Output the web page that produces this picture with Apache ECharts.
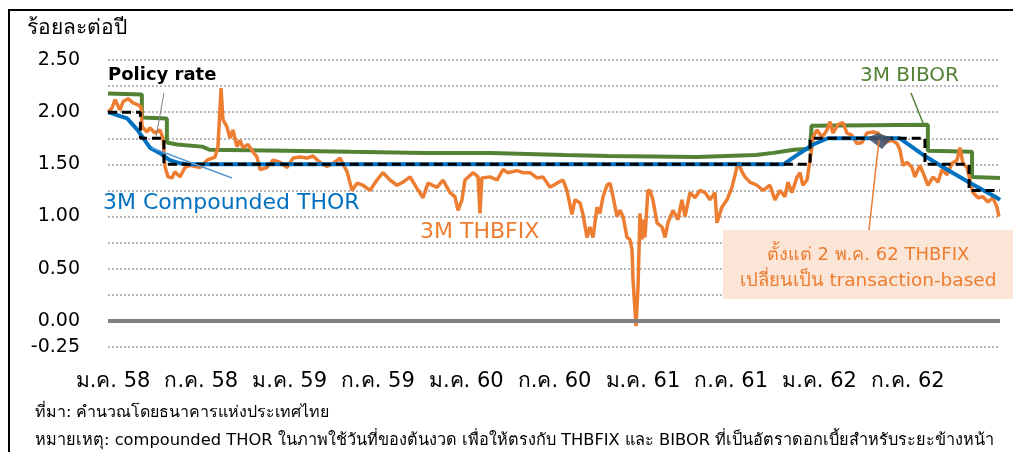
<!DOCTYPE html>
<html>
<head>
<meta charset="utf-8">
<title>THOR THBFIX BIBOR</title>
<script src="https://cdn.jsdelivr.net/npm/echarts@6/dist/echarts.min.js"></script>
<style>
    html, body { margin: 0; padding: 0; background: #fff; }
    #main { width: 1013px; height: 452px; }
</style>
</head>
<body>
<div id="main"></div>
<script>
// x = เดือนนับจาก ม.ค. 58 (0 = ต้น ม.ค. 2015)
var tickLabels = ['ม.ค. 58', 'ก.ค. 58', 'ม.ค. 59', 'ก.ค. 59', 'ม.ค. 60', 'ก.ค. 60', 'ม.ค. 61', 'ก.ค. 61', 'ม.ค. 62', 'ก.ค. 62'];
var tickMonths = [0, 6, 12, 18, 24, 30, 36, 42, 48, 54];

// policy rate (ขั้นบันได ค่าคงที่จนถึงจุดถัดไป)
var policyX = [0, 2.2, 3.8, 47.7, 55.5, 58.5, 60.6];
var policyY = [2.00, 1.75, 1.50, 1.75, 1.50, 1.25, 1.25];

// 3M BIBOR
var biborX = [0, 2.3, 2.3, 4.0, 4.0, 4.7, 6.4, 6.9, 12, 16.5, 21.5, 26, 31, 34, 40, 44, 45.2, 46.6, 47.7, 47.8, 55.7, 55.7, 58.7, 58.7, 60.6];
var biborY = [2.18, 2.17, 1.95, 1.94, 1.71, 1.69, 1.67, 1.64, 1.63, 1.62, 1.61, 1.61, 1.59, 1.58, 1.57, 1.59, 1.61, 1.64, 1.65, 1.87, 1.88, 1.63, 1.62, 1.38, 1.37];

// 3M compounded THOR
var thorX = [0, 1.3, 2.0, 2.85, 3.5, 4.2, 4.9, 5.5, 20, 35, 45.9, 46.6, 47.9, 48.9, 53.8, 55.6, 57.0, 58.6, 60.4, 60.6];
var thorY = [2.00, 1.94, 1.83, 1.66, 1.61, 1.54, 1.51, 1.50, 1.50, 1.50, 1.50, 1.57, 1.69, 1.75, 1.75, 1.57, 1.45, 1.32, 1.18, 1.16];

// 3M THBFIX
var thbfixX = [0, 0.27, 0.48, 0.82, 1.02, 1.36, 1.70, 2.04, 2.25, 2.31, 2.65, 2.85, 3.19, 3.53, 3.74, 3.87, 4.08, 4.35, 4.55, 4.89,
    5.23, 5.57, 6.25, 6.73, 7.27, 7.47, 7.68, 7.81, 8.08, 8.29, 8.49, 8.76, 8.97, 9.17, 9.51, 9.85, 10.12, 10.33, 10.80, 11.21,
    11.68, 12.16, 12.57, 13.04, 13.52, 13.93, 14.40, 14.88, 15.29, 15.76, 16.24, 16.58, 16.92, 17.32, 17.80, 18.27, 18.68, 19.16, 19.63, 20.04,
    20.52, 20.99, 21.40, 21.74, 22.35, 22.76, 23.23, 23.57, 23.78, 24.05, 24.25, 24.80, 25.14, 25.27, 25.40, 25.95, 26.43, 26.83, 27.17, 27.79,
    28.19, 28.67, 29.14, 29.55, 30.03, 30.50, 30.91, 31.18, 31.52, 31.72, 32.07, 32.27, 32.54, 32.74, 32.95, 33.22, 33.42, 33.63, 33.90, 34.10,
    34.31, 34.58, 34.78, 34.99, 35.26, 35.46, 35.60, 35.67, 35.87, 36.01, 36.14, 36.28, 36.35, 36.48, 36.68, 36.82, 37.02, 37.30, 37.64, 37.84,
    38.04, 38.38, 38.72, 38.99, 39.20, 39.54, 39.88, 40.22, 40.56, 40.90, 41.24, 41.37, 41.71, 42.05, 42.39, 42.60, 42.80, 43.07, 43.27, 43.61,
    44.09, 44.50, 44.97, 45.31, 45.65, 45.99, 46.20, 46.47, 46.81, 47.01, 47.21, 47.49, 47.69, 47.83, 47.89, 48.17, 48.51, 48.85, 49.05, 49.25,
    49.59, 49.93, 50.20, 50.54, 50.88, 51.22, 51.56, 51.97, 52.31, 52.79, 53.26, 53.60, 53.80, 54.01, 54.28, 54.62, 54.82, 55.16, 55.37, 55.71,
    56.05, 56.39, 56.66, 57.00, 57.34, 57.68, 57.88, 58.08, 58.36, 58.56, 58.76, 59.10, 59.44, 59.78, 60.12, 60.39, 60.53];
var thbfixY = [2.00, 2.04, 2.12, 2.02, 2.10, 2.13, 2.09, 2.07, 2.05, 1.86, 1.81, 1.85, 1.80, 1.83, 1.75, 1.48, 1.38, 1.37, 1.43, 1.38,
    1.47, 1.49, 1.47, 1.54, 1.57, 1.67, 2.23, 1.93, 1.86, 1.75, 1.83, 1.67, 1.73, 1.66, 1.69, 1.62, 1.57, 1.45, 1.47, 1.54,
    1.52, 1.47, 1.56, 1.57, 1.56, 1.58, 1.52, 1.48, 1.51, 1.56, 1.43, 1.25, 1.32, 1.30, 1.25, 1.35, 1.42, 1.35, 1.30, 1.33,
    1.38, 1.27, 1.18, 1.32, 1.28, 1.35, 1.23, 1.19, 1.06, 1.16, 1.35, 1.42, 1.38, 1.03, 1.37, 1.38, 1.35, 1.45, 1.42, 1.44,
    1.42, 1.42, 1.37, 1.38, 1.28, 1.32, 1.35, 1.25, 1.02, 1.16, 1.13, 1.02, 0.80, 0.90, 0.80, 1.09, 1.03, 1.19, 1.30, 1.32,
    1.19, 1.00, 1.06, 1.00, 0.80, 0.78, 0.68, 0.39, -0.05, 0.33, 1.03, 0.78, 0.97, 0.80, 1.25, 1.25, 1.16, 0.94, 0.90, 0.80,
    0.94, 1.06, 0.97, 1.16, 1.00, 1.23, 1.18, 1.25, 1.23, 1.16, 1.23, 0.94, 1.09, 1.16, 1.28, 1.40, 1.52, 1.43, 1.38, 1.33,
    1.30, 1.25, 1.30, 1.16, 1.25, 1.19, 1.33, 1.23, 1.38, 1.42, 1.30, 1.35, 1.54, 1.67, 1.76, 1.83, 1.76, 1.83, 1.91, 1.80,
    1.88, 1.90, 1.80, 1.78, 1.70, 1.71, 1.80, 1.81, 1.80, 1.71, 1.73, 1.70, 1.64, 1.49, 1.52, 1.47, 1.38, 1.49, 1.42, 1.30,
    1.38, 1.33, 1.45, 1.40, 1.51, 1.54, 1.66, 1.51, 1.47, 1.35, 1.23, 1.18, 1.19, 1.14, 1.18, 1.09, 1.00];

function pairs(xs, ys) {
    return xs.map(function (x, i) { return [x, ys[i]]; });
}

var FONT = '"DejaVu Sans", "Noto Sans", sans-serif';
var chart = echarts.init(document.getElementById('main'));

chart.setOption({
    animation: false,
    textStyle: { fontFamily: FONT },
    grid: { left: 108, right: 13, top: 60, bottom: 105 },
    xAxis: {
        type: 'value',
        min: 0,
        max: 60.6,
        axisLine: { show: false },
        axisTick: { show: false },
        splitLine: { show: false },
        axisLabel: {
            customValues: tickMonths,
            margin: 24,
            fontSize: 21,
            color: '#000',
            padding: [0, 0, 0, 10],
            formatter: function (v) {
                return tickLabels[tickMonths.indexOf(v)] || '';
            }
        }
    },
    yAxis: {
        type: 'value',
        min: -0.25,
        max: 2.5,
        interval: 0.25,
        axisLine: { show: false },
        axisTick: { show: false },
        axisLabel: {
            margin: 28,
            fontSize: 19,
            color: '#000',
            formatter: function (v) {
                // แสดงเฉพาะทุก 0.50 กับ -0.25
                var k = Math.round(v * 100);
                if (k % 50 === 0 || k === -25) return v.toFixed(2);
                return '';
            }
        },
        splitLine: { show: true, lineStyle: { color: '#a0a0a0', type: [2, 2], width: 1.5 } }
    },
    series: [{
        name: '3M BIBOR',
        type: 'line',
        data: pairs(biborX, biborY),
        showSymbol: false,
        lineStyle: { color: '#548235', width: 4 },
        markLine: {
            silent: true,
            symbol: 'none',
            label: { show: false },
            lineStyle: { color: '#808080', width: 4, type: 'solid' },
            data: [{ yAxis: 0 }]
        }
    }, {
        name: '3M THBFIX',
        type: 'line',
        data: pairs(thbfixX, thbfixY),
        showSymbol: false,
        lineStyle: { color: '#ed7d31', width: 3.5 }
    }, {
        name: '3M Compounded THOR',
        type: 'line',
        data: pairs(thorX, thorY),
        showSymbol: false,
        lineStyle: { color: '#0070c0', width: 4 }
    }, {
        name: 'Policy rate',
        type: 'line',
        step: 'end',
        data: pairs(policyX, policyY),
        showSymbol: false,
        lineStyle: { color: '#000', width: 3, type: [9, 5] }
    }],
    graphic: [
        // กรอบ
        { type: 'rect', shape: { x: 9, y: 10, width: 1010, height: 450 }, style: { fill: 'none', stroke: '#000', lineWidth: 2 }, z: 100 },
        { type: 'text', left: 27, top: 18, style: { text: 'ร้อยละต่อปี', font: '21px ' + FONT, fill: '#000' } },
        // เส้นชี้
        { type: 'line', shape: { x1: 164, y1: 93, x2: 156, y2: 137 }, style: { stroke: '#808080', lineWidth: 1 }, z: 50 },
        { type: 'line', shape: { x1: 152, y1: 148, x2: 232, y2: 178 }, style: { stroke: '#5b9bd5', lineWidth: 1.5 }, z: 50 },
        { type: 'line', shape: { x1: 480, y1: 178, x2: 480, y2: 213 }, style: { stroke: '#ed7d31', lineWidth: 1.5 }, z: 50 },
        { type: 'line', shape: { x1: 911, y1: 93, x2: 923, y2: 123 }, style: { stroke: '#548235', lineWidth: 1.5 }, z: 50 },
        { type: 'polygon', shape: { points: [[867, 138], [878, 133], [892, 138], [882, 149]] }, style: { fill: '#44546a', opacity: 0.9 }, z: 50 },
        { type: 'line', shape: { x1: 879, y1: 140, x2: 869, y2: 230 }, style: { stroke: '#ed7d31', lineWidth: 1.5 }, z: 50 },
        { type: 'text', left: 108, top: 66, style: { text: 'Policy rate', font: 'bold 18px ' + FONT, fill: '#000' }, z: 50 },
        { type: 'text', left: 860, top: 66, style: { text: '3M BIBOR', font: '20px ' + FONT, fill: '#548235' }, z: 50 },
        { type: 'text', left: 103, top: 192, style: { text: '3M Compounded THOR', font: '22px ' + FONT, fill: '#0070c0' }, z: 50 },
        { type: 'text', left: 420, top: 221, style: { text: '3M THBFIX', font: '22px ' + FONT, fill: '#ed7d31' }, z: 50 },
        // กล่องหมายเหตุ
        { type: 'rect', shape: { x: 723, y: 230, width: 290, height: 69 }, style: { fill: '#fbe5d6' }, z: 40 },
        { type: 'text', x: 868, y: 255, style: { text: 'ตั้งแต่ 2 พ.ค. 62 THBFIX', font: '18px ' + FONT, fill: '#ed7d31', align: 'center', verticalAlign: 'middle' }, z: 50 },
        { type: 'text', x: 868, y: 281, style: { text: 'เปลี่ยนเป็น transaction-based', font: '18.5px ' + FONT, fill: '#ed7d31', align: 'center', verticalAlign: 'middle' }, z: 50 },
        // ที่มา
        { type: 'text', left: 35, top: 405, style: { text: 'ที่มา: คำนวณโดยธนาคารแห่งประเทศไทย', font: '16px ' + FONT, fill: '#000' } },
        { type: 'text', left: 35, top: 433, style: { text: 'หมายเหตุ: compounded THOR ในภาพใช้วันที่ของต้นงวด เพื่อให้ตรงกับ THBFIX และ BIBOR ที่เป็นอัตราดอกเบี้ยสำหรับระยะข้างหน้า', font: '16.3px ' + FONT, fill: '#000' } }
    ]
});

window.addEventListener('resize', function () {
    chart.resize();
});
</script>
</body>
</html>
